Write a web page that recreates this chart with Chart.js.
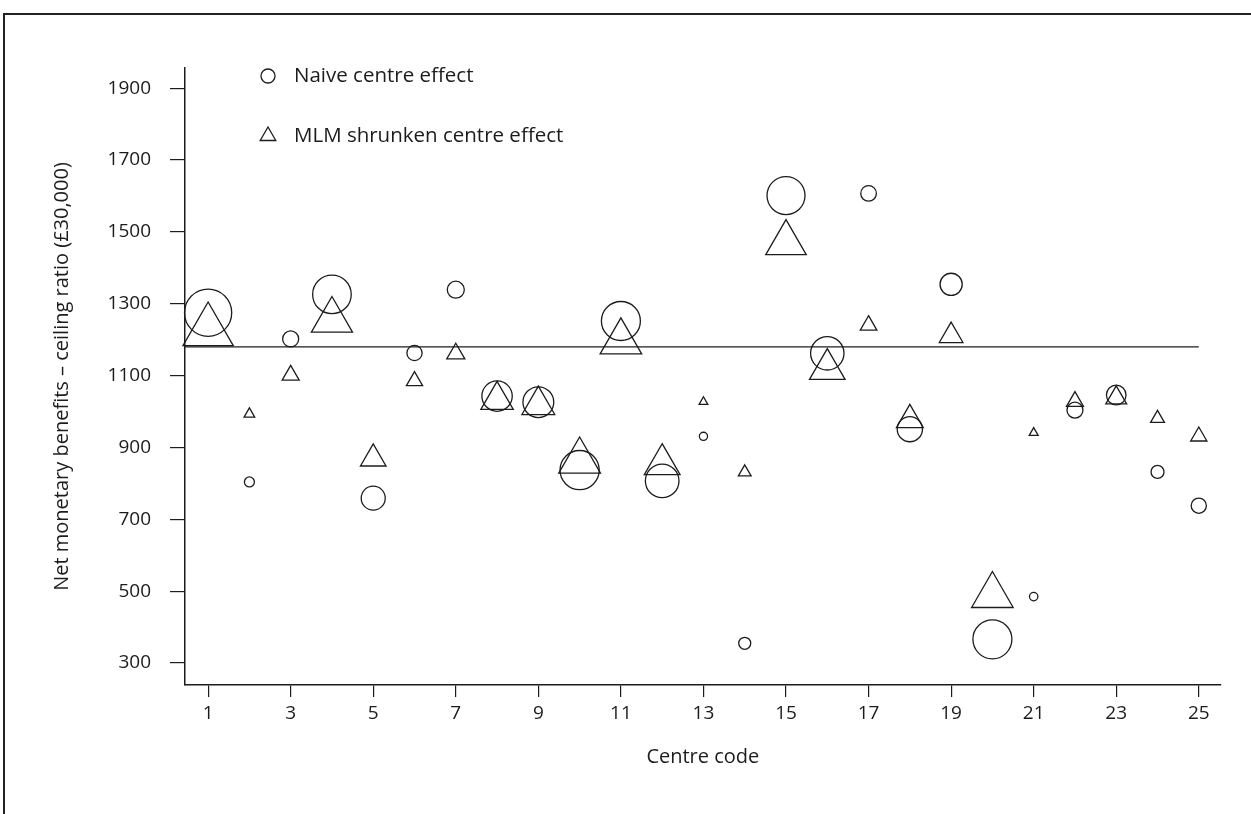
<!DOCTYPE html>
<html>
<head>
<meta charset="utf-8">
<title>Centre effects</title>
<script src="https://cdn.jsdelivr.net/npm/chart.js@4.4.1/dist/chart.umd.min.js"></script>
<style>
  html, body { margin: 0; padding: 0; background: #fff; }
  #wrap { position: relative; width: 1251px; height: 814px; overflow: hidden; }
  #frame { position: absolute; left: 3px; top: 13px; right: -2px; bottom: -2px;
           border-top: 2px solid #222; border-left: 2px solid #222; }
  canvas { position: absolute; left: 0; top: 0; }
</style>
</head>
<body>
<div id="wrap">
  <div id="frame"></div>
  <canvas id="chart" width="1251" height="814"></canvas>
</div>
<script>
// data
const centres = [1, 2, 3, 4, 5, 6, 7, 8, 9, 10, 11, 12, 13, 14, 15, 16, 17, 18, 19, 20, 21, 22, 23, 24, 25];
const naiveEffect = [1275, 804, 1202, 1326, 759, 1163, 1339, 1043, 1026, 837, 1252, 807, 931,
                     355, 1601, 1162, 1607, 951, 1354, 366, 485, 1004, 1046, 832, 738];
const shrunkEffect = [1224, 993, 1101, 1254, 869, 1085, 1161, 1032, 1018, 862, 1194, 853, 1027,
                      831, 1469, 1118, 1240, 977, 1211, 488, 941, 1028, 1038, 981, 931];
// relative centre weight (symbol size)
const centreWeight = [23.6, 5, 8, 19.3, 12, 7.6, 8.5, 15.2, 15.4, 19.6, 19.5, 16.8, 4.1,
                      6, 19, 16.7, 7.8, 12.6, 11.1, 19.5, 4.2, 8, 9.8, 6.5, 7.6];
const overallMean = 1180;
const xTickValues = [1, 3, 5, 7, 9, 11, 13, 15, 17, 19, 21, 23, 25];
const yTickValues = [300, 500, 700, 900, 1100, 1300, 1500, 1700, 1900];
const seriesLabels = ['Naive centre effect', 'MLM shrunken centre effect'];
const xTitle = 'Centre code';
const yTitle = 'Net monetary benefits \u2013 ceiling ratio (\u00a330,000)';

const INK = '#1c1c1c';
const FONT = '"Open Sans", "Noto Sans", sans-serif';
const X_MIN = 0.44, X_MAX = 25.53;
const Y_MIN = 239, Y_MAX = 1956;

const weightAt = (ctx) => centreWeight[ctx.dataIndex] ?? 0;

// legend drawn inside the plot, top left
const insetLegend = {
  id: 'insetLegend',
  afterDraw(chart) {
    const ctx = chart.ctx;
    const x0 = chart.chartArea.left + 83;
    const y0 = chart.chartArea.top + 8;
    ctx.save();
    ctx.strokeStyle = INK;
    ctx.lineWidth = 1.3;
    ctx.beginPath();
    ctx.arc(x0, y0, 7, 0, Math.PI * 2);
    ctx.stroke();
    const r = 9, ty = y0 + 60;
    ctx.beginPath();
    ctx.moveTo(x0, ty - r);
    ctx.lineTo(x0 + r * Math.sin(2 * Math.PI / 3), ty + r / 2);
    ctx.lineTo(x0 - r * Math.sin(2 * Math.PI / 3), ty + r / 2);
    ctx.closePath();
    ctx.stroke();
    ctx.fillStyle = INK;
    ctx.font = '20.5px ' + FONT;
    ctx.textBaseline = 'middle';
    ctx.fillText(seriesLabels[0], x0 + 26, y0);
    ctx.fillText(seriesLabels[1], x0 + 26, ty);
    ctx.restore();
  }
};

new Chart(document.getElementById('chart'), {
  type: 'scatter',
  data: {
    datasets: [
      {
        label: seriesLabels[0],
        data: centres.map((c, i) => ({ x: c, y: naiveEffect[i] })),
        pointStyle: 'circle',
        pointRadius: (ctx) => weightAt(ctx),
        pointBackgroundColor: 'rgba(0,0,0,0)',
        pointBorderColor: INK,
        pointBorderWidth: 1.3,
        clip: false
      },
      {
        label: seriesLabels[1],
        data: centres.map((c, i) => ({ x: c, y: shrunkEffect[i] })),
        pointStyle: 'triangle',
        pointRadius: (ctx) => weightAt(ctx) * 1.23,
        pointBackgroundColor: 'rgba(0,0,0,0)',
        pointBorderColor: INK,
        pointBorderWidth: 1.3,
        clip: false
      },
      {
        label: 'mean',
        type: 'line',
        data: [{ x: X_MIN, y: overallMean }, { x: centres[centres.length - 1], y: overallMean }],
        borderColor: INK,
        borderWidth: 1.3,
        pointRadius: 0,
        showLine: true
      }
    ]
  },
  options: {
    responsive: false,
    animation: false,
    events: [],
    layout: { padding: { left: 4, right: 29, top: 68, bottom: 29 } },
    plugins: {
      legend: { display: false },
      tooltip: { enabled: false }
    },
    scales: {
      x: {
        type: 'linear',
        min: X_MIN,
        max: X_MAX,
        afterBuildTicks: (axis) => { axis.ticks = xTickValues.map(v => ({ value: v })); },
        afterFit: (axis) => { axis.height = 100; },
        grid: { drawOnChartArea: false, drawTicks: true, tickLength: 12, color: INK, lineWidth: 1.2 },
        border: { display: true, color: INK, width: 1.5 },
        ticks: { color: INK, font: { family: FONT, size: 19 }, padding: 5, maxRotation: 0, autoSkip: false,
                 callback: (v) => String(v) },
        title: { display: true, text: xTitle, color: INK, font: { family: FONT, size: 20 }, padding: { bottom: 16 } }
      },
      y: {
        type: 'linear',
        min: Y_MIN,
        max: Y_MAX,
        afterBuildTicks: (axis) => { axis.ticks = yTickValues.map(v => ({ value: v })); },
        afterFit: (axis) => { axis.width = 181; },
        grid: { drawOnChartArea: false, drawTicks: true, tickLength: 15, color: INK, lineWidth: 1.2 },
        border: { display: true, color: INK, width: 1.5 },
        ticks: { color: INK, font: { family: FONT, size: 19 }, padding: 19, autoSkip: false,
                 callback: (v) => String(v) },
        title: { display: true, text: yTitle, color: INK, font: { family: FONT, size: 20 }, padding: { top: 46 } }
      }
    }
  },
  plugins: [insetLegend]
});
</script>
</body>
</html>
